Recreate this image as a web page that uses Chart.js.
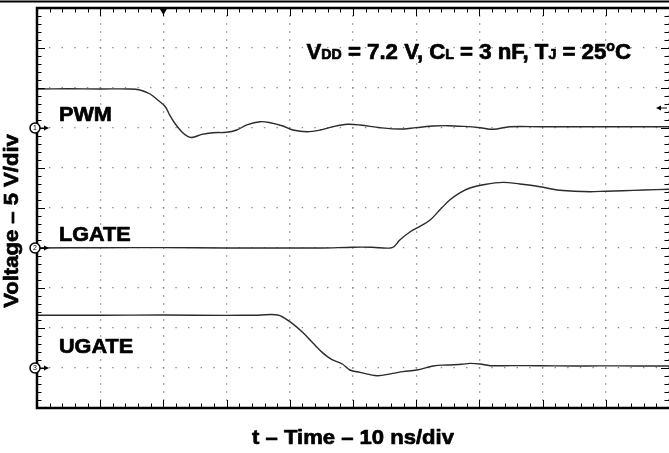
<!DOCTYPE html>
<html>
<head>
<meta charset="utf-8">
<script src="https://cdn.jsdelivr.net/npm/chart.js@4"></script>
<style>
  html, body { margin: 0; padding: 0; background: #fff; }
  #wrap { width: 669px; height: 453px; position: relative; }
</style>
</head>
<body>
<div id="wrap"><canvas id="scope"></canvas></div>
<script>
// time in ns (10 ns/div), voltage in V (5 V/div)
const timeTicks = [0, 10, 20, 30, 40, 50, 60, 70, 80, 90, 100];
const voltTicks = [0, 5, 10, 15, 20, 25, 30, 35, 40, 45, 50];

const channelNames = ['PWM', 'LGATE', 'UGATE'];
const channelGround = [35, 20, 5]; // where each channel's 0 V marker sits on screen

const pwmTime = [0, 5, 10, 14.7, 16.3, 17.9, 19.1, 20.3, 21.0, 21.8, 22.9, 23.9, 24.7, 26.1, 27.8, 30.0,
  31.6, 33.2, 35.3, 36.9, 38.9, 40.5, 42.7, 44.8, 46.8, 49.1, 51.1, 54.3, 57.4, 60.0, 62.7, 65.0,
  67.5, 70.1, 72.2, 74.8, 79.6, 85, 90, 95, 100];
const pwmVolt = [4.88, 4.9, 4.88, 4.88, 4.75, 4.25, 3.5, 2.66, 1.62, 0.59, -0.46, -1.09, -1.16, -0.79, -0.59, -0.54,
  -0.25, 0.38, 0.79, 0.66, 0.25, -0.25, -0.46, -0.25, 0.16, 0.46, 0.38, 0.04, -0.13, 0.05, 0.25, 0.29,
  0.2, 0.04, -0.16, 0.16, 0.16, 0.16, 0.15, 0.16, 0.16];

const lgateTime = [0, 10, 20, 30, 40, 45, 50, 53, 56.2, 57.4, 59.0, 60.6, 62.2, 63.8, 65.3, 66.9,
  68.5, 70.6, 73.7, 76.4, 79.6, 82.3, 85, 87.5, 90, 92.7, 96, 100];
const lgateVolt = [0, 0.04, 0.05, 0, 0, 0, 0.1, 0.1, 0.05, 1.0, 2.0, 2.7, 3.5, 4.8, 6.0, 6.9,
  7.5, 7.9, 8.2, 8.0, 7.66, 7.25, 7.1, 7.04, 7.1, 7.16, 7.25, 7.34];

const ugateTime = [0, 10, 20, 30, 35, 38.1, 40.0, 42.1, 43.7, 45.3, 46.6, 48.3, 49.5, 51.1, 53.8, 56.3,
  57.9, 60.1, 62.7, 64.9, 67.2, 68.5, 70.1, 71.7, 75, 79.6, 85, 89.1, 95, 100];
const ugateVolt = [6.6, 6.6, 6.62, 6.58, 6.6, 6.63, 5.79, 4.4, 3.08, 1.83, 1.08, 0.5, -0.25, -0.54, -0.96, -0.67,
  -0.46, -0.25, 0.25, 0.38, 0.46, 0.58, 0.5, 0.29, 0.3, 0.29, 0.25, 0.27, 0.25, 0.25];

const traces = [[pwmTime, pwmVolt], [lgateTime, lgateVolt], [ugateTime, ugateVolt]];

const FONT = '"Liberation Sans", Arial, Helvetica, sans-serif';

// bold scope lettering, a bit wider and heavier than plain canvas text
function wideText(ctx, text, x, y, sx) {
  ctx.save();
  ctx.translate(x, y);
  ctx.scale(sx, 1);
  ctx.lineWidth = 0.7;
  ctx.lineJoin = 'round';
  ctx.fillText(text, 0, 0);
  ctx.strokeText(text, 0, 0);
  ctx.restore();
  return ctx.measureText(text).width * sx;
}

const scopeDecor = {
  id: 'scopeDecor',
  afterDraw(chart) {
    const { ctx, chartArea: a, scales: { x, y } } = chart;
    ctx.save();
    ctx.strokeStyle = '#000';
    ctx.fillStyle = '#000';

    // minor ticks, 5 per division, on all four edges
    ctx.lineWidth = 1;
    ctx.beginPath();
    for (let t = 0; t <= 100; t += 2) {
      const px = Math.round(x.getPixelForValue(t)) + 0.5;
      const len = t % 10 === 0 ? 8 : 4.5;
      ctx.moveTo(px, a.bottom); ctx.lineTo(px, a.bottom - len);
      ctx.moveTo(px, a.top); ctx.lineTo(px, a.top + len);
    }
    for (let v = 0; v <= 50; v += 1) {
      const py = Math.round(y.getPixelForValue(v)) + 0.5;
      const len = v % 5 === 0 ? 8 : 4.5;
      ctx.moveTo(a.left, py); ctx.lineTo(a.left + len, py);
      ctx.moveTo(a.right, py); ctx.lineTo(a.right - len, py);
    }
    ctx.stroke();

    // frame
    ctx.lineWidth = 2.5;
    ctx.beginPath();
    ctx.moveTo(a.right + 2, a.top); ctx.lineTo(a.left, a.top);
    ctx.lineTo(a.left, a.bottom); ctx.lineTo(a.right + 2, a.bottom);
    ctx.stroke();
    // page rule above the plot
    ctx.lineWidth = 2;
    ctx.beginPath();
    ctx.moveTo(0, 1.5); ctx.lineTo(chart.width, 1.5);
    ctx.stroke();

    // trigger position marker (top) and trigger level arrow (right)
    const tx = x.getPixelForValue(20);
    ctx.beginPath();
    ctx.moveTo(tx - 3.5, a.top + 1); ctx.lineTo(tx + 3.5, a.top + 1); ctx.lineTo(tx, a.top + 7);
    ctx.closePath(); ctx.fill();
    const ly = y.getPixelForValue(channelGround[0] + 2.5);
    ctx.lineWidth = 1;
    ctx.beginPath();
    ctx.moveTo(a.right - 2, ly); ctx.lineTo(a.right - 10, ly); ctx.stroke();
    ctx.beginPath();
    ctx.moveTo(a.right - 13, ly); ctx.lineTo(a.right - 8, ly - 2.5); ctx.lineTo(a.right - 8, ly + 2.5);
    ctx.closePath(); ctx.fill();

    // channel ground markers
    channelGround.forEach((g, i) => {
      const py = y.getPixelForValue(g);
      const cx = a.left - 2;
      ctx.lineWidth = 1;
      ctx.beginPath();
      ctx.moveTo(cx + 5, py); ctx.lineTo(a.left + 8, py); ctx.stroke();
      ctx.beginPath();
      ctx.moveTo(a.left + 12, py); ctx.lineTo(a.left + 7, py - 2.5); ctx.lineTo(a.left + 7, py + 2.5);
      ctx.closePath(); ctx.fill();
      ctx.beginPath();
      ctx.arc(cx, py, 5, 0, Math.PI * 2);
      ctx.fillStyle = '#fff'; ctx.fill();
      ctx.lineWidth = 1.5; ctx.stroke();
      ctx.fillStyle = '#000';
      ctx.font = '7px ' + FONT;
      ctx.textAlign = 'center'; ctx.textBaseline = 'middle';
      ctx.fillText(String(i + 1), cx, py + 0.5);
    });

    // channel names
    ctx.textAlign = 'left'; ctx.textBaseline = 'alphabetic';
    ctx.font = 'bold 21px ' + FONT;
    const nameBase = [120.7, 240.7, 353.3];
    channelNames.forEach((n, i) => wideText(ctx, n, a.left + 22, nameBase[i], 1.03));

    // test conditions
    const sx = 1.01;
    let px = 306.5;
    const base = 59.3;
    const big = 'bold 22px ' + FONT, small = 'bold 14px ' + FONT;
    const parts = [
      ['V', big, 0], ['DD', small, 0], [' = 7.2 V, C', big, 0], ['L', small, 0],
      [' = 3 nF, T', big, 0], ['J', small, 0], [' = 25', big, 0], ['o', small, -8.6], ['C', big, 0]
    ];
    parts.forEach(([s, f, dy]) => {
      ctx.font = f;
      px += wideText(ctx, s, px, base + dy, sx);
    });

    // axis titles
    ctx.font = 'bold 21px ' + FONT;
    ctx.textAlign = 'left';
    const xt = 't – Time – 10 ns/div';
    const xw = ctx.measureText(xt).width * 1.05;
    wideText(ctx, xt, (a.left + a.right) / 2 - xw / 2, 444, 1.05);
    ctx.save();
    ctx.translate(17.5, 221);
    ctx.rotate(-Math.PI / 2);
    const yt = 'Voltage – 5 V/div';
    const yw = ctx.measureText(yt).width * 1.05;
    wideText(ctx, yt, -yw / 2, 0, 1.05);
    ctx.restore();

    ctx.restore();
  }
};

new Chart(document.getElementById('scope'), {
  type: 'line',
  data: {
    datasets: traces.map(([ts, vs], i) => ({
      label: channelNames[i],
      data: ts.map((t, k) => ({ x: t, y: channelGround[i] + vs[k] })),
      borderColor: '#2b2b2b',
      borderWidth: 1.4,
      pointRadius: 0,
      tension: 0.35
    }))
  },
  options: {
    responsive: true,
    maintainAspectRatio: false,
    animation: false,
    layout: { padding: { left: 37, top: 8, right: 0, bottom: 45 } },
    plugins: { legend: { display: false }, tooltip: { enabled: false } },
    scales: {
      x: {
        type: 'linear', min: 0, max: 100,
        afterBuildTicks: s => { s.ticks = timeTicks.map(v => ({ value: v })); },
        ticks: { display: false },
        grid: { color: '#8a8a8a', lineWidth: 1.3, drawTicks: false },
        border: { display: false, dash: [1.4, 6.6], dashOffset: 0.7 }
      },
      y: {
        type: 'linear', min: 0, max: 50,
        afterBuildTicks: s => { s.ticks = voltTicks.map(v => ({ value: v })); },
        ticks: { display: false },
        grid: { color: '#8a8a8a', lineWidth: 1.3, drawTicks: false },
        border: { display: false, dash: [1.4, 11.24], dashOffset: 0.7 }
      }
    }
  },
  plugins: [scopeDecor]
});
</script>
</body>
</html>
